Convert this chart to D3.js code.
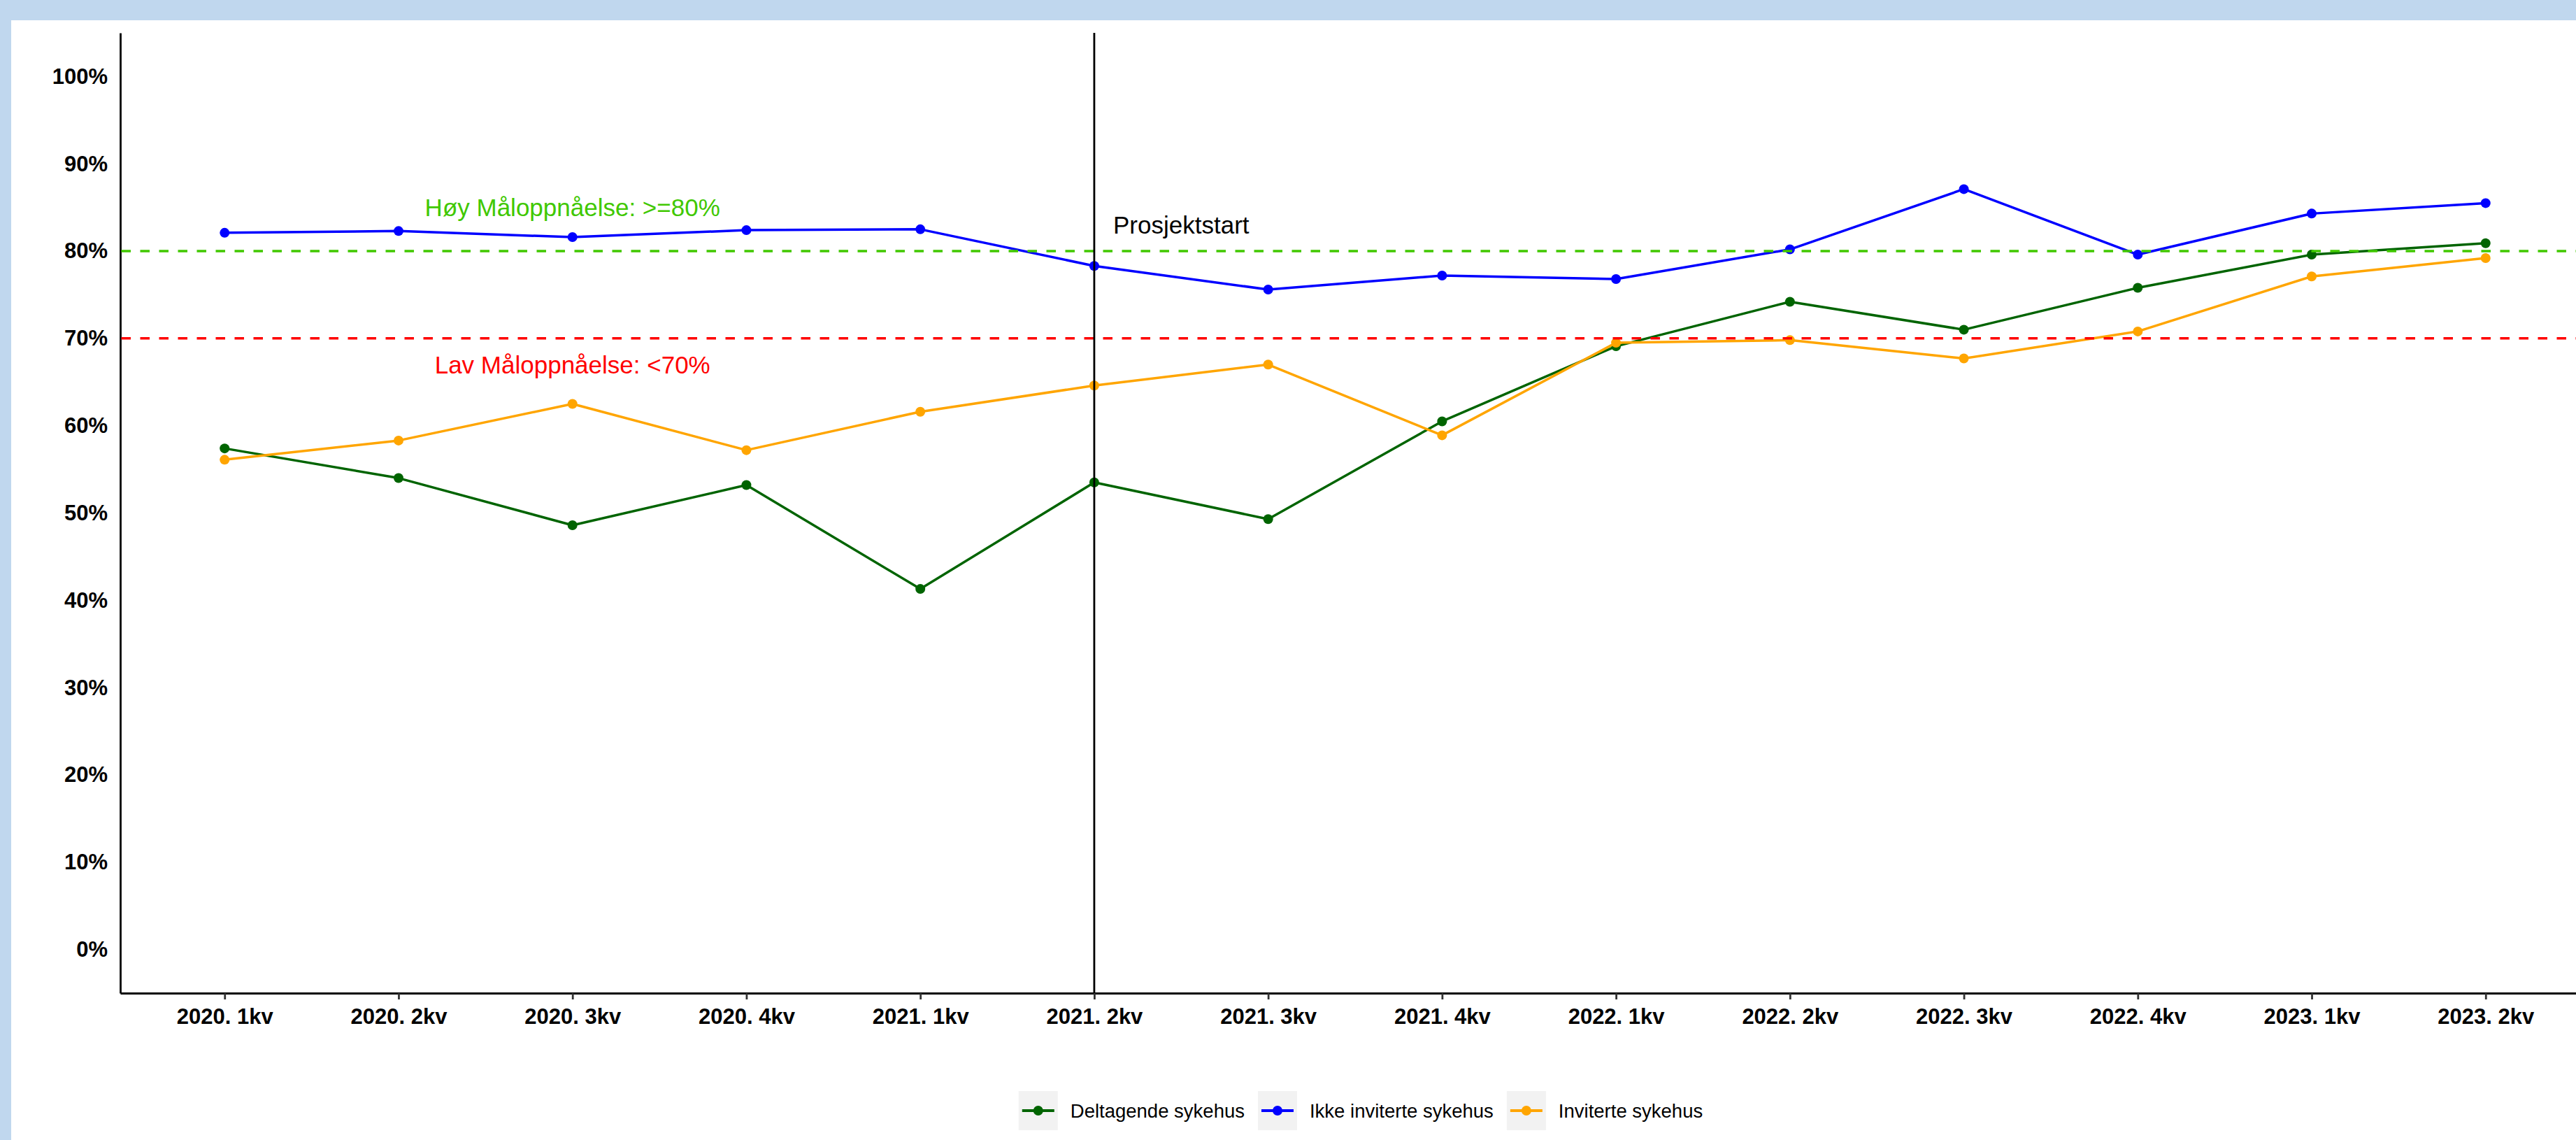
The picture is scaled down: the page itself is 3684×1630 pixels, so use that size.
<!DOCTYPE html>
<html>
<head>
<meta charset="utf-8">
<script src="https://cdn.jsdelivr.net/npm/d3@7"></script>
<style>
body { margin: 0; background: #fff; }
svg { display: block; font-family: "Liberation Sans", Arial, sans-serif; }
</style>
</head>
<body>
<svg id="chart" width="3684" height="1630"></svg>
<script>
const quarters = ['2020. 1kv', '2020. 2kv', '2020. 3kv', '2020. 4kv', '2021. 1kv', '2021. 2kv', '2021. 3kv',
	'2021. 4kv', '2022. 1kv', '2022. 2kv', '2022. 3kv', '2022. 4kv', '2023. 1kv', '2023. 2kv']
const deltagende = [57.4, 54.0, 48.6, 53.2, 41.3, 53.5, 49.3, 60.5, 69.1, 74.2, 71.0, 75.8, 79.6, 80.9]
const ikkeInviterte = [82.1, 82.3, 81.6, 82.4, 82.5, 78.3, 75.6, 77.2, 76.8, 80.2, 87.1, 79.6, 84.3, 85.5]
const inviterte = [56.1, 58.3, 62.5, 57.2, 61.6, 64.6, 67.0, 58.9, 69.5, 69.8, 67.7, 70.8, 77.1, 79.2]
const seriesNames = ['Deltagende sykehus', 'Ikke inviterte sykehus', 'Inviterte sykehus']
const yTicks = [0, 10, 20, 30, 40, 50, 60, 70, 80, 90, 100]
const highGoal = 80
const lowGoal = 70
const startQuarter = '2021. 2kv'

const svg = d3.select('#chart')
const width = +svg.attr('width')
const height = +svg.attr('height')
const frameColor = '#c0d7ee'
const seriesColors = ['#006400', '#0000ff', '#ffa500']
const highColor = '#40c800'
const lowColor = '#ff0000'
const lineWidth = 3.5
const pointRadius = 7

// light blue frame round the picture
svg.append('rect').attr('width', width).attr('height', height).attr('fill', frameColor)
svg.append('rect').attr('x', 16).attr('y', 29).attr('width', width - 16).attr('height', height - 29).attr('fill', '#fff')

const plotLeft = 172
const plotRight = 3704
const plotTop = 47
const plotBottom = 1420

const xScale = d3.scalePoint()
	.domain(quarters)
	.range([plotLeft, plotRight])
	.padding(0.6)

const yScale = d3.scaleLinear()
	.domain([-5, 105])
	.range([plotBottom, plotTop])

// axes
const yAxis = svg.append('g')
	.attr('transform', `translate(${plotLeft}, 0)`)
	.call(d3.axisLeft(yScale).tickValues(yTicks).tickFormat(d => d + '%').tickSize(0).tickSizeOuter(0).tickPadding(18))
yAxis.selectAll('text').style('font-size', '31px').style('font-weight', 'bold').attr('fill', '#000')
yAxis.select('path.domain').attr('stroke', '#000').attr('stroke-width', 2.8)

const xAxis = svg.append('g')
	.attr('transform', `translate(0, ${plotBottom})`)
	.call(d3.axisBottom(xScale).tickSizeInner(9).tickSizeOuter(0).tickPadding(13))
xAxis.selectAll('text').style('font-size', '31px').style('font-weight', 'bold').attr('fill', '#000')
xAxis.selectAll('.tick line').attr('stroke', '#333').attr('stroke-width', 2.8)
xAxis.select('path.domain').attr('stroke', '#000').attr('stroke-width', 2.8)

// series
const allSeries = [deltagende, ikkeInviterte, inviterte].map((values, i) => ({
	name: seriesNames[i],
	color: seriesColors[i],
	points: quarters.map((q, j) => ({ q: q, v: values[j] }))
}))

const line = d3.line()
	.x(d => xScale(d.q))
	.y(d => yScale(d.v))

allSeries.forEach(s => {
	svg.append('path')
		.datum(s.points)
		.attr('d', line)
		.attr('fill', 'none')
		.attr('stroke', s.color)
		.attr('stroke-width', lineWidth)
		.attr('stroke-linejoin', 'round')
	svg.selectAll(null)
		.data(s.points)
		.enter()
		.append('circle')
			.attr('cx', d => xScale(d.q))
			.attr('cy', d => yScale(d.v))
			.attr('r', pointRadius)
			.attr('fill', s.color)
})

// goal lines
const goalLines = [[highGoal, highColor], [lowGoal, lowColor]]
goalLines.forEach(([v, c]) => {
	svg.append('line')
		.attr('x1', plotLeft + 1.5).attr('x2', width)
		.attr('y1', yScale(v)).attr('y2', yScale(v))
		.attr('stroke', c)
		.attr('stroke-width', lineWidth)
		.attr('stroke-dasharray', '13.5 13.5')
})

// project start
svg.append('line')
	.attr('x1', xScale(startQuarter)).attr('x2', xScale(startQuarter))
	.attr('y1', plotTop).attr('y2', plotBottom)
	.attr('stroke', '#000')
	.attr('stroke-width', 2.8)

const step = xScale.step()
const annotations = [
	{ text: 'Høy Måloppnåelse: >=80%', x: xScale(quarters[2]), v: 85, color: highColor },
	{ text: 'Lav Måloppnåelse: <70%', x: xScale(quarters[2]), v: 67, color: lowColor },
	{ text: 'Prosjektstart', x: xScale(startQuarter) + step / 2, v: 83, color: '#000' }
]
svg.selectAll('text.note')
	.data(annotations)
	.enter()
	.append('text')
		.attr('class', 'note')
		.attr('x', d => d.x)
		.attr('y', d => yScale(d.v))
		.attr('dy', '0.35em')
		.attr('text-anchor', 'middle')
		.style('font-size', '35px')
		.attr('fill', d => d.color)
		.text(d => d.text)

// legend
const legendY = 1588
const keySize = 56
const legend = svg.append('g')
let cursor = 0
allSeries.forEach(s => {
	const item = legend.append('g').attr('transform', `translate(${cursor}, 0)`)
	item.append('rect')
		.attr('x', 0).attr('y', legendY - keySize / 2)
		.attr('width', keySize).attr('height', keySize)
		.attr('fill', '#f2f2f2')
	item.append('line')
		.attr('x1', 5).attr('x2', keySize - 5)
		.attr('y1', legendY).attr('y2', legendY)
		.attr('stroke', s.color)
		.attr('stroke-width', 4)
	item.append('circle')
		.attr('cx', keySize / 2).attr('cy', legendY)
		.attr('r', pointRadius)
		.attr('fill', s.color)
	const label = item.append('text')
		.attr('x', keySize + 18)
		.attr('y', legendY)
		.attr('dy', '0.35em')
		.style('font-size', '27.5px')
		.attr('fill', '#000')
		.text(s.name)
	cursor += keySize + 18 + label.node().getComputedTextLength() + 19
})
const legendWidth = cursor - 19
legend.attr('transform', `translate(${1946 - legendWidth / 2}, 0)`)
</script>
</body>
</html>
